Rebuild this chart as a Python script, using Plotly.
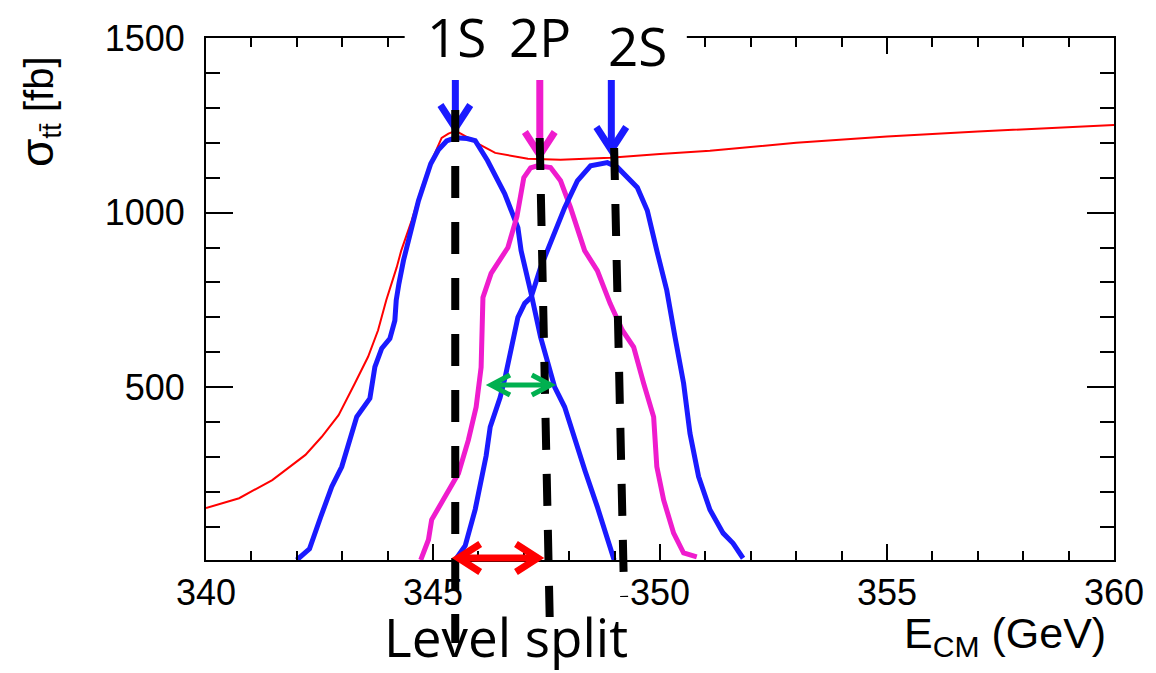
import plotly.graph_objects as go

# ---------------- data ----------------
tot_x = [340.0, 340.73, 341.46, 342.19, 342.55, 342.92, 343.28, 343.57, 343.79, 343.97,
         344.2, 344.3, 344.53, 344.75, 344.97, 345.19, 345.34, 345.5, 345.78, 346.0,
         346.37, 346.72, 347.09, 347.81, 348.9, 350.0, 351.1, 353.0, 355.0, 357.0, 360.0]
tot_y = [154, 182, 234, 306, 358, 420, 511, 587, 663, 749,
         843, 891, 977, 1071, 1149, 1214, 1226, 1234, 1214, 1197,
         1171, 1163, 1154, 1151, 1157, 1168, 1177, 1200, 1218, 1232, 1251]

s1_x = [342.0, 342.28, 342.52, 342.77, 342.99, 343.21, 343.32, 343.61, 343.72, 343.87,
        344.05, 344.16, 344.19, 344.25, 344.35, 344.68, 344.95, 345.12, 345.3, 345.49,
        345.75, 345.93, 346.2, 346.58, 346.87, 346.94, 347.09, 347.16, 347.37, 347.68,
        347.9, 348.12, 348.35, 348.62, 348.99]
s1_y = [5, 37, 126, 215, 272, 368, 415, 468, 558, 611,
        639, 691, 749, 797, 863, 1034, 1140, 1180, 1205, 1214,
        1212, 1206, 1149, 1054, 957, 891, 814, 769, 643, 500,
        443, 349, 260, 157, 5]

p2_x = [344.73, 344.9, 344.97, 345.27, 345.56, 345.78, 345.95, 346.06, 346.1, 346.28,
        346.5, 346.65, 346.85, 347.0, 347.15, 347.3, 347.59, 347.81, 348.03, 348.25,
        348.34, 348.62, 348.9, 349.17, 349.42, 349.64, 349.86, 349.93, 350.08, 350.3,
        350.52, 350.81]
p2_y = [5, 63, 120, 190, 253, 349, 443, 557, 757, 826,
        871, 900, 990, 1100, 1128, 1134, 1129, 1091, 1014, 920,
        891, 834, 740, 663, 615, 511, 415, 272, 177, 82,
        25, 14]

s2_x = [345.49, 345.71, 345.93, 346.06, 346.17, 346.26, 346.48, 346.59, 346.72, 346.87,
        347.02, 347.16, 347.37, 347.52, 347.9, 348.18, 348.47, 348.84, 349.06, 349.5,
        349.72, 349.93, 350.15, 350.33, 350.52, 350.66, 350.85, 351.1, 351.39, 351.61,
        351.83]
s2_y = [5, 46, 150, 240, 303, 386, 471, 529, 606, 700,
        740, 757, 843, 891, 1014, 1091, 1134, 1143, 1130, 1072,
        1006, 891, 777, 644, 511, 368, 244, 149, 82, 53,
        10]

x_ticks = [340, 345, 350, 355, 360]
y_ticks = [500, 1000, 1500]

level_names = ["1S", "2P", "2S"]
level_top_x = [345.49, 347.35, 348.99]     # GeV, top of dashed marker
level_bot_x = [345.49, 347.57, 349.21]     # GeV, bottom of dashed marker

# ---------------- layout geometry ----------------
W, H = 1156, 673
L, R, T, B = 206, 36, 38, 113
X0, X1 = 340, 360
Y0, Y1 = 5, 1500
PW, PH = W - L - R, H - T - B


def px(p):
    return (p - L) / PW


def py(p):
    return (H - B - p) / PH


def gx(v):
    return (v - X0) / (X1 - X0)


BLUE = "#1a1aff"
MAG = "#ef1ccd"
RED = "#ff0000"
GREEN = "#00b050"

fig = go.Figure()
fig.add_trace(go.Scatter(x=tot_x, y=tot_y, mode="lines", line=dict(color=RED, width=2)))
fig.add_trace(go.Scatter(x=s1_x, y=s1_y, mode="lines", line=dict(color=BLUE, width=5)))
fig.add_trace(go.Scatter(x=p2_x, y=p2_y, mode="lines", line=dict(color=MAG, width=5)))
fig.add_trace(go.Scatter(x=s2_x, y=s2_y, mode="lines", line=dict(color=BLUE, width=5)))

shapes = []
# white box behind level labels
shapes.append(dict(type="rect", xref="paper", yref="paper", x0=px(406), x1=px(690),
                   y0=py(80), y1=py(0), fillcolor="white", line=dict(width=0), layer="above"))


def vee_arrow(xc, y_start, y_tip, half_w, head_h, color, width):
    out = []
    out.append(dict(type="line", xref="paper", yref="paper", x0=px(xc), x1=px(xc),
                    y0=py(y_start), y1=py(y_tip - 4), line=dict(color=color, width=width),
                    layer="above"))
    path = "M {:.5f},{:.5f} L {:.5f},{:.5f} L {:.5f},{:.5f}".format(
        px(xc - half_w), py(y_tip - head_h), px(xc), py(y_tip), px(xc + half_w), py(y_tip - head_h))
    out.append(dict(type="path", xref="paper", yref="paper", path=path,
                    line=dict(color=color, width=width), layer="above"))
    return out


shapes += vee_arrow(457, 80, 128, 15, 23, BLUE, 7)
shapes += vee_arrow(542, 80, 155, 15, 23, MAG, 7)
shapes += vee_arrow(614, 80, 150, 15, 23, BLUE, 7)

# dashed level markers
level_top_px = [110, 138, 148]
level_bot_px = [643, 617, 597]
for xt, xb, yt, yb in zip(level_top_x, level_bot_x, level_top_px, level_bot_px):
    shapes.append(dict(type="line", xref="paper", yref="paper", x0=gx(xt), x1=gx(xb),
                       y0=py(yt), y1=py(yb), line=dict(color="black", width=8, dash="32px,24px"),
                       layer="above"))


def double_arrow(xa, xb, yc, head_w, head_h, color, width):
    out = [dict(type="line", xref="paper", yref="paper", x0=px(xa + 3), x1=px(xb - 3),
                y0=py(yc), y1=py(yc), line=dict(color=color, width=width), layer="above")]
    for tip, sgn in ((xa, 1), (xb, -1)):
        path = "M {:.5f},{:.5f} L {:.5f},{:.5f} L {:.5f},{:.5f}".format(
            px(tip + sgn * head_w), py(yc - head_h), px(tip), py(yc), px(tip + sgn * head_w), py(yc + head_h))
        out.append(dict(type="path", xref="paper", yref="paper", path=path,
                        line=dict(color=color, width=width), layer="above"))
    return out


shapes += double_arrow(460, 540, 558, 22, 14, RED, 7)
shapes += double_arrow(493, 553, 385, 19, 10, GREEN, 5)

annotations = []
big_font = dict(family="Open Sans, Noto Sans, sans-serif", size=53, color="black")
for name, (cx, cy) in zip(level_names, [(458, 37), (542, 37), (640, 45)]):
    annotations.append(dict(text=name, xref="paper", yref="paper", x=px(cx), y=py(cy),
                            xanchor="center", yanchor="middle", showarrow=False, font=big_font))
annotations.append(dict(text="Level split", xref="paper", yref="paper", x=px(508), y=py(636),
                        xanchor="center", yanchor="middle", showarrow=False, font=big_font))
annotations.append(dict(text='<span style="font-size:46px">σ</span><sub>tt̄</sub> [fb]',
                        xref="paper", yref="paper", x=px(38), y=py(112), textangle=-90,
                        xanchor="center", yanchor="middle", showarrow=False,
                        font=dict(family="Liberation Sans, Arial, sans-serif", size=40, color="black")))
annotations.append(dict(text="E<sub>CM</sub> (GeV)", xref="paper", yref="paper", x=px(1114), y=py(636),
                        xanchor="right", yanchor="middle", showarrow=False,
                        font=dict(family="Liberation Sans, Arial, sans-serif", size=43, color="black")))

tickfont = dict(family="Liberation Sans, Arial, sans-serif", size=36, color="black")
fig.update_layout(
    width=W, height=H, margin=dict(l=L, r=R, t=T, b=B),
    paper_bgcolor="white", plot_bgcolor="white", showlegend=False,
    xaxis=dict(range=[X0, X1], tickvals=x_ticks, ticks="inside", ticklen=16, tickwidth=2,
               tickcolor="black", showline=True, linewidth=2, linecolor="black", mirror="ticks",
               showgrid=False, zeroline=False, tickfont=tickfont, ticklabelstandoff=0,
               minor=dict(dtick=1, tick0=340, ticks="inside", ticklen=9, tickwidth=2, tickcolor="black",
                          showgrid=False)),
    yaxis=dict(range=[Y0, Y1], tickvals=y_ticks, ticks="inside", ticklen=27, tickwidth=2,
               tickcolor="black", showline=True, linewidth=2, linecolor="black", mirror="ticks",
               showgrid=False, zeroline=False, tickfont=tickfont, ticklabelstandoff=12,
               minor=dict(dtick=100, tick0=0, ticks="inside", ticklen=14, tickwidth=2, tickcolor="black",
                          showgrid=False)),
    shapes=shapes, annotations=annotations,
)

fig.write_html("out.html")
